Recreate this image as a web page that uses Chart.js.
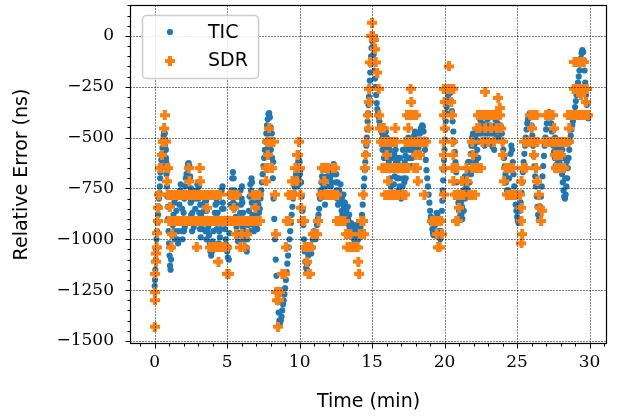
<!DOCTYPE html>
<html>
<head>
<meta charset="utf-8">
<script src="https://cdn.jsdelivr.net/npm/chart.js@4.4.0/dist/chart.umd.min.js"></script>
<style>
  html, body { margin: 0; padding: 0; background: #fff; }
  #wrap { width: 618px; height: 416px; }
</style>
</head>
<body>
<div id="wrap"><canvas id="chart" width="618" height="416"></canvas></div>
<script>
const ticTime = [
  0.00,0.02,0.05,0.08,0.10,0.13,0.16,0.20,0.24,0.28,
  0.30,0.33,0.36,0.38,0.40,0.43,0.46,0.50,0.54,0.58,
  0.62,0.66,0.70,0.74,0.78,0.80,0.82,0.85,0.88,0.90,
  0.93,0.96,1.00,1.03,1.06,1.10,1.13,1.16,1.20,1.25,
  1.30,1.35,1.40,1.45,1.50,1.55,1.60,1.65,1.70,1.75,
  1.80,1.85,1.90,1.95,2.00,2.05,2.10,2.15,2.20,2.25,
  2.30,2.35,2.40,2.45,2.50,2.55,2.60,2.65,2.70,2.75,
  2.80,2.85,2.90,2.95,3.00,3.05,3.10,3.15,3.20,3.25,
  3.30,3.35,3.40,3.45,3.50,3.55,3.60,3.65,3.70,3.75,
  3.80,3.85,3.90,3.95,4.00,4.05,4.10,4.15,4.20,4.25,
  4.30,4.35,4.40,4.45,4.50,4.55,4.60,4.65,4.70,4.75,
  4.80,4.85,4.90,4.95,5.00,5.05,5.10,5.15,5.20,5.25,
  5.30,5.35,5.40,5.45,5.50,5.55,5.60,5.65,5.70,5.75,
  5.80,5.85,5.90,5.95,6.00,6.05,6.10,6.15,6.20,6.25,
  6.30,6.35,6.40,6.45,6.50,6.55,6.60,6.65,6.70,6.75,
  6.80,6.85,6.90,6.95,7.00,7.05,7.10,7.15,7.20,7.25,
  7.30,7.35,7.40,7.45,7.50,7.55,7.60,7.65,7.70,7.75,
  7.80,7.85,7.90,7.95,8.00,8.05,8.10,8.15,8.20,8.25,
  8.30,8.35,8.40,8.45,8.50,8.55,8.60,8.65,8.70,8.75,
  8.80,8.85,8.90,8.95,9.00,9.05,9.10,9.15,9.20,9.25,
  9.30,9.35,9.40,9.45,9.50,9.55,9.60,9.65,9.70,9.75,
  9.80,9.85,9.90,9.95,10.00,10.05,10.10,10.15,10.20,10.25,
  10.30,10.35,10.40,10.45,10.50,10.55,10.60,10.65,10.70,10.75,
  10.80,10.85,10.90,10.95,11.00,11.05,11.10,11.15,11.20,11.25,
  11.30,11.35,11.40,11.45,11.50,11.55,11.60,11.65,11.70,11.75,
  11.80,11.85,11.90,11.95,12.00,12.05,12.10,12.15,12.20,12.25,
  12.30,12.35,12.40,12.45,12.50,12.55,12.60,12.65,12.70,12.75,
  12.80,12.85,12.90,12.95,13.00,13.05,13.10,13.15,13.20,13.25,
  13.30,13.35,13.40,13.45,13.50,13.55,13.60,13.65,13.70,13.75,
  13.80,13.85,13.90,13.95,14.00,14.05,14.10,14.15,14.20,14.25,
  14.30,14.35,14.40,14.43,14.46,14.50,14.53,14.56,14.60,14.63,
  14.66,14.69,14.72,14.75,14.78,14.81,14.84,14.87,14.90,14.93,
  14.96,14.99,15.02,15.05,15.08,15.11,15.14,15.17,15.20,15.24,
  15.28,15.32,15.36,15.40,15.45,15.50,15.55,15.60,15.65,15.70,
  15.75,15.80,15.85,15.90,15.95,16.00,16.05,16.10,16.15,16.20,
  16.25,16.30,16.35,16.40,16.45,16.50,16.55,16.60,16.65,16.70,
  16.75,16.80,16.85,16.90,16.95,17.00,17.05,17.10,17.15,17.20,
  17.25,17.30,17.35,17.40,17.45,17.50,17.55,17.60,17.65,17.70,
  17.75,17.80,17.85,17.90,17.95,18.00,18.05,18.10,18.15,18.20,
  18.25,18.30,18.35,18.40,18.45,18.50,18.55,18.60,18.65,18.70,
  18.75,18.80,18.85,18.90,18.95,19.00,19.05,19.10,19.15,19.20,
  19.25,19.30,19.35,19.40,19.45,19.50,19.55,19.60,19.65,19.70,
  19.75,19.78,19.81,19.84,19.87,19.90,19.93,19.96,19.99,20.02,
  20.05,20.08,20.11,20.14,20.20,20.25,20.30,20.35,20.40,20.45,
  20.50,20.55,20.60,20.65,20.70,20.75,20.80,20.85,20.90,20.95,
  21.00,21.05,21.10,21.15,21.20,21.25,21.30,21.35,21.40,21.45,
  21.50,21.55,21.60,21.65,21.70,21.75,21.80,21.85,21.90,21.95,
  22.00,22.05,22.10,22.15,22.20,22.25,22.30,22.35,22.40,22.45,
  22.50,22.55,22.60,22.65,22.70,22.75,22.80,22.85,22.90,22.95,
  23.00,23.05,23.10,23.15,23.20,23.25,23.30,23.35,23.40,23.45,
  23.50,23.55,23.60,23.65,23.70,23.75,23.80,23.85,23.90,23.95,
  24.00,24.05,24.10,24.15,24.20,24.25,24.30,24.35,24.40,24.45,
  24.50,24.55,24.60,24.65,24.70,24.75,24.80,24.85,24.90,24.95,
  25.00,25.05,25.10,25.15,25.20,25.25,25.30,25.35,25.40,25.45,
  25.50,25.55,25.60,25.65,25.70,25.75,25.80,25.85,25.90,25.95,
  26.00,26.05,26.10,26.15,26.20,26.25,26.30,26.35,26.40,26.45,
  26.50,26.55,26.60,26.65,26.70,26.75,26.80,26.85,26.90,26.95,
  27.00,27.05,27.10,27.15,27.20,27.25,27.30,27.35,27.40,27.45,
  27.50,27.55,27.60,27.65,27.70,27.75,27.80,27.85,27.90,27.95,
  28.00,28.05,28.10,28.15,28.20,28.25,28.30,28.35,28.40,28.45,
  28.50,28.55,28.60,28.65,28.70,28.75,28.80,28.85,28.90,28.95,
  29.00,29.05,29.10,29.15,29.20,29.25,29.30,29.35,29.40,29.45,
  29.50,29.55,29.60,29.65,29.70,29.75,29.80,29.85,29.90,
  // second pass through the thick parts of the trace
  1.32,1.38,1.58,1.62,1.88,1.92,2.02,2.08,2.42,2.48,
  2.52,2.58,3.02,3.08,3.12,3.18,3.48,3.52,3.58,3.62,
  4.22,4.28,4.42,4.62,4.68,5.12,5.38,5.42,5.48,5.92,
  6.02,6.08,6.12,6.58,6.62,6.68,6.72,7.02,7.08,7.12,
  7.62,7.72,7.82,7.88,7.92,7.98,8.02,8.08,8.12,8.18,
  15.62,15.72,15.82,15.92,16.02,16.12,16.22,16.32,16.42,16.52,
  16.62,16.72,16.82,16.92,17.02,17.12,17.22,17.32,17.42,17.52,
  21.12,21.22,21.32,21.42,21.62,21.72,21.82,22.12,22.22,22.32,
  22.52,22.62,22.72,22.92,23.02,23.12,23.32,23.42,23.62,23.72,
  27.52,27.62,27.72,27.82,27.92,28.02,28.12,28.22,28.32,28.42,
  12.52,12.62,12.72,12.82,12.92,13.02,13.12,13.22,13.32,13.42,
  0.52,0.58,0.64,0.72,0.78,9.72,9.82,9.92,10.02,10.08
];
const ticError = [
  -1230,-1200,-1150,-1100,-1050,-1000,-960,-920,-880,-840,
  -800,-770,-740,-700,-670,-640,-610,-580,-550,-520,
  -490,-475,-480,-510,-560,-620,-680,-740,-790,-840,
  -900,-960,-1020,-1080,-1130,-1150,-1100,-1040,-980,-930,
  -880,-820,-780,-800,-860,-920,-960,-900,-830,-760,
  -730,-780,-850,-910,-870,-800,-740,-700,-680,-650,
  -630,-625,-640,-690,-750,-810,-870,-920,-940,-900,
  -850,-800,-760,-730,-720,-740,-780,-830,-880,-920,
  -950,-910,-860,-820,-790,-810,-860,-900,-940,-980,
  -1020,-1060,-1080,-1060,-1010,-960,-910,-870,-830,-800,
  -820,-870,-920,-960,-990,-950,-900,-850,-820,-850,
  -900,-950,-1000,-1030,-1060,-1090,-1040,-970,-900,-830,
  -760,-700,-670,-700,-760,-830,-890,-940,-980,-1010,
  -970,-920,-870,-830,-800,-820,-870,-920,-960,-1000,
  -1040,-1060,-1000,-930,-860,-790,-730,-760,-820,-880,
  -930,-960,-920,-880,-850,-820,-800,-830,-870,-850,
  -800,-760,-720,-680,-640,-600,-560,-520,-480,-440,
  -410,-385,-380,-400,-450,-520,-600,-700,-800,-900,
  -1000,-1100,-1180,-1250,-1310,-1360,-1400,-1410,-1400,-1380,
  -1350,-1320,-1300,-1270,-1240,-1200,-1160,-1120,-1080,-1040,
  -1000,-960,-920,-880,-840,-800,-770,-740,-710,-680,
  -655,-635,-620,-610,-620,-660,-720,-790,-860,-930,
  -1000,-1060,-1110,-1140,-1150,-1120,-1080,-1050,-1030,-1050,
  -1070,-1040,-1000,-970,-960,-980,-1000,-970,-930,-900,
  -880,-850,-800,-760,-720,-690,-700,-740,-790,-830,
  -790,-740,-690,-660,-645,-660,-700,-740,-720,-680,
  -650,-630,-640,-680,-720,-760,-800,-830,-800,-770,
  -780,-820,-860,-880,-860,-840,-870,-900,-920,-900,
  -880,-900,-930,-950,-940,-920,-940,-960,-980,-1000,
  -980,-950,-930,-950,-980,-1000,-990,-960,-940,-920,
  -880,-830,-780,-740,-700,-660,-620,-580,-540,-500,
  -460,-420,-380,-340,-300,-260,-220,-180,-140,-100,
  -60,-25,0,-15,-50,-90,-130,-170,-210,-250,
  -290,-330,-360,-380,-400,-420,-440,-460,-470,-480,
  -500,-510,-480,-460,-470,-500,-540,-580,-620,-660,
  -700,-740,-770,-790,-770,-730,-690,-650,-620,-600,
  -620,-660,-700,-740,-780,-800,-780,-740,-700,-660,
  -620,-590,-560,-540,-520,-500,-520,-560,-600,-640,
  -600,-560,-520,-490,-470,-480,-510,-550,-580,-550,
  -510,-480,-460,-450,-440,-445,-470,-510,-560,-610,
  -660,-700,-740,-780,-820,-860,-890,-920,-950,-970,
  -980,-960,-930,-900,-870,-880,-920,-960,-990,-1000,
  -960,-910,-860,-810,-760,-710,-660,-610,-560,-510,
  -460,-420,-380,-350,-320,-290,-270,-265,-280,-320,
  -370,-420,-470,-520,-570,-620,-670,-720,-770,-820,
  -860,-890,-905,-880,-840,-800,-760,-720,-690,-700,
  -740,-780,-760,-720,-670,-620,-580,-540,-500,-480,
  -500,-540,-580,-620,-600,-560,-520,-480,-440,-410,
  -390,-400,-430,-470,-510,-540,-520,-480,-440,-410,
  -390,-380,-400,-440,-480,-520,-545,-520,-480,-440,
  -410,-390,-400,-430,-470,-500,-470,-440,-450,-480,
  -520,-560,-600,-640,-680,-720,-760,-790,-760,-700,
  -640,-580,-540,-560,-620,-680,-740,-790,-830,-860,
  -890,-910,-920,-900,-860,-820,-770,-720,-670,-620,
  -580,-540,-500,-460,-430,-410,-395,-385,-380,-400,
  -440,-490,-540,-590,-640,-690,-740,-790,-840,-880,
  -905,-880,-840,-790,-740,-690,-640,-590,-540,-500,
  -460,-430,-400,-385,-375,-380,-400,-430,-470,-510,
  -540,-570,-600,-640,-660,-630,-590,-560,-540,-560,
  -600,-640,-680,-720,-760,-790,-800,-780,-740,-700,
  -650,-600,-560,-520,-490,-460,-440,-420,-400,-380,
  -350,-320,-290,-260,-230,-200,-170,-140,-110,-85,
  -70,-80,-120,-170,-230,-290,-340,-380,-405,
  // second pass
  -960,-1000,-1000,-1020,-960,-1000,-960,-940,-700,-820,
  -880,-960,-800,-870,-950,-990,-900,-960,-1000,-960,
  -900,-950,-1020,-760,-740,-1100,-780,-820,-850,-760,
  -740,-940,-1000,-900,-960,-700,-720,-930,-950,-900,
  -640,-560,-480,-460,-470,-520,-560,-480,-520,-620,
  -520,-560,-600,-560,-600,-520,-560,-600,-640,-580,
  -560,-700,-760,-600,-640,-560,-720,-700,-640,-600,
  -820,-900,-860,-800,-620,-720,-680,-500,-460,-600,
  -480,-520,-440,-520,-480,-520,-450,-560,-500,-400,
  -460,-500,-560,-520,-620,-540,-560,-600,-700,-620,
  -680,-720,-760,-730,-800,-780,-820,-860,-840,-880,
  -640,-600,-560,-540,-600,-700,-740,-700,-680,-720
];

const sdrTime = [
  0.00,0.02,0.03,0.05,0.08,0.10,0.13,0.15,0.20,0.25,
  0.30,0.35,0.40,0.45,0.50,0.55,0.60,0.65,0.70,0.75,
  0.80,0.85,0.90,0.95,1.00,1.05,1.10,1.15,1.20,2.35,
  1.25,1.50,1.75,2.00,2.25,2.50,2.75,3.00,3.25,3.50,
  3.75,4.00,4.25,4.50,5.20,5.45,5.70,6.80,7.00,7.20,
  1.25,1.50,1.75,2.00,2.25,2.50,2.75,3.00,3.25,3.50,
  3.75,4.00,4.25,4.50,4.75,5.00,5.25,5.50,5.75,6.00,
  6.25,6.50,6.75,7.00,7.25,2.40,3.10,3.15,3.60,5.45,
  2.90,3.80,4.05,4.30,4.55,4.80,5.00,5.90,6.20,4.40,
  5.00,5.10,5.60,6.00,6.40,6.95,7.65,7.80,7.90,7.75,
  7.90,8.05,8.20,7.80,7.70,8.10,8.30,8.35,8.40,8.45,
  8.50,8.55,8.65,8.80,8.90,9.00,9.05,9.10,9.20,9.30,
  9.25,9.40,9.50,9.60,9.70,9.80,9.85,9.90,9.95,10.00,
  10.05,10.10,10.15,10.30,10.35,10.45,10.55,10.65,10.50,10.60,
  10.70,10.80,10.90,11.00,11.20,11.30,11.45,11.55,11.65,11.75,
  11.70,11.85,11.95,12.00,12.15,12.30,12.45,12.30,12.45,12.60,
  12.55,12.70,12.85,13.00,13.10,13.20,13.35,13.50,13.30,13.45,
  13.60,13.75,13.90,14.00,14.05,14.10,14.15,14.25,14.40,14.40,
  14.45,14.50,14.55,14.60,14.70,14.75,14.80,14.80,14.85,14.95,
  15.00,15.05,15.10,15.20,15.25,15.35,15.45,15.50,15.55,15.60,
  15.75,15.90,16.05,16.20,16.35,16.50,16.65,15.70,15.85,16.00,
  16.15,16.30,16.45,16.60,16.75,16.90,17.05,17.20,17.35,17.50,
  16.00,15.90,16.05,16.20,16.35,16.50,16.65,16.80,17.10,17.30,
  16.10,15.80,16.60,17.40,17.50,17.65,17.70,17.75,17.90,18.05,
  17.60,17.30,17.50,17.70,17.85,18.00,18.20,18.40,18.60,18.75,
  18.00,17.90,18.10,18.15,18.60,18.30,19.10,19.25,19.40,19.60,
  19.75,19.45,19.55,19.65,19.80,19.95,19.95,19.95,19.95,19.95,
  19.95,20.00,20.00,20.30,20.20,20.35,20.50,20.60,20.45,20.50,
  20.55,20.60,20.55,20.70,20.85,20.60,20.70,20.85,21.00,21.15,
  21.30,20.80,20.90,21.00,21.20,21.50,21.55,21.70,21.85,21.90,
  21.95,21.90,22.10,22.30,22.50,22.10,22.25,22.30,22.45,22.60,
  22.75,22.90,23.05,23.20,23.35,23.50,23.65,23.80,22.80,23.70,
  23.80,22.40,22.60,22.80,23.00,23.20,23.40,23.60,23.90,24.00,
  24.00,24.20,24.40,24.60,24.70,24.10,24.30,24.50,24.70,24.90,
  25.20,25.30,25.30,25.30,25.35,25.40,25.30,25.60,25.50,25.65,
  25.80,25.95,26.10,26.25,26.40,25.90,26.05,26.20,26.35,26.00,
  26.15,26.30,26.40,26.50,26.55,26.65,26.70,26.90,27.05,27.20,
  27.35,27.50,27.65,27.80,27.95,28.10,28.25,28.40,28.55,27.00,
  27.15,27.30,27.45,27.55,27.60,27.75,27.90,28.05,27.65,27.80,
  27.95,28.10,28.25,28.50,28.65,28.80,28.95,29.10,29.25,29.40,
  29.55,29.70,29.85,28.60,28.90,29.05,29.20,29.35,29.50,29.65,
  29.80,29.40,28.95,29.10,29.25,29.45,29.60,29.75,29.90
];
const sdrError = [
  -1430,-1300,-1260,-1170,-1110,-1070,-1040,-970,-910,-845,
  -780,-650,-650,-650,-585,-520,-520,-455,-390,-520,
  -650,-715,-780,-650,-910,-840,-780,-1040,-975,-650,
  -780,-780,-780,-780,-780,-780,-780,-780,-780,-780,
  -780,-780,-780,-780,-780,-780,-780,-780,-780,-780,
  -910,-910,-910,-910,-910,-910,-910,-910,-910,-910,
  -910,-910,-910,-910,-910,-910,-910,-910,-910,-910,
  -910,-910,-910,-910,-910,-715,-650,-715,-845,-845,
  -1040,-1040,-1040,-1040,-1040,-1040,-1040,-1040,-1040,-1110,
  -1170,-1170,-975,-975,-975,-845,-650,-650,-455,-520,
  -520,-520,-520,-585,-715,-650,-780,-975,-1260,-1300,
  -1430,-1300,-1260,-1170,-1170,-1170,-1040,-910,-910,-910,
  -780,-780,-715,-780,-650,-715,-585,-585,-520,-650,
  -780,-845,-910,-910,-1040,-1040,-1040,-1040,-1110,-1170,
  -1170,-1040,-975,-975,-975,-910,-780,-650,-650,-780,
  -715,-650,-650,-780,-780,-650,-650,-780,-780,-780,
  -910,-910,-910,-910,-910,-975,-975,-975,-1040,-1040,
  -1040,-1040,-1040,-1040,-1110,-1170,-975,-910,-780,-910,
  -975,-650,-585,-520,-390,-455,-325,-260,-130,0,
  65,0,-20,-65,-130,-180,-260,-390,-455,-520,
  -520,-520,-520,-520,-520,-520,-520,-650,-650,-650,
  -650,-650,-650,-650,-650,-650,-650,-650,-650,-650,
  -585,-780,-780,-780,-780,-780,-780,-780,-780,-780,
  -715,-455,-455,-390,-455,-260,-325,-390,-390,-390,
  -390,-520,-520,-520,-520,-520,-520,-520,-520,-520,
  -585,-650,-650,-715,-780,-585,-910,-910,-910,-910,
  -910,-975,-1040,-1040,-975,-260,-390,-520,-585,-650,
  -780,-325,-455,-150,-260,-260,-260,-260,-325,-390,
  -520,-585,-650,-650,-650,-715,-780,-780,-780,-780,
  -780,-910,-910,-845,-715,-650,-715,-780,-780,-520,
  -585,-650,-650,-650,-650,-780,-455,-390,-390,-390,
  -390,-390,-390,-390,-390,-390,-390,-390,-275,-305,
  -355,-455,-520,-455,-520,-455,-520,-455,-455,-520,
  -585,-650,-650,-650,-650,-715,-780,-780,-780,-780,
  -780,-845,-910,-1020,-975,-650,-715,-650,-520,-520,
  -520,-520,-520,-520,-520,-390,-390,-390,-390,-455,
  -585,-650,-715,-780,-845,-910,-860,-520,-520,-520,
  -520,-520,-520,-520,-520,-520,-520,-520,-520,-390,
  -390,-390,-390,-455,-585,-585,-585,-585,-650,-650,
  -650,-650,-650,-390,-390,-390,-390,-390,-390,-390,
  -390,-390,-390,-455,-260,-260,-260,-260,-260,-260,
  -260,-290,-128,-128,-128,-128,-128,-325,-390
];

const seriesNames = ['TIC', 'SDR'];
const seriesColors = ['#1f77b4', '#ff7f0e'];

// filled "plus" marker like matplotlib's 'P'
function makePlus(color) {
  const c = document.createElement('canvas');
  c.width = 10; c.height = 10;
  const g = c.getContext('2d');
  g.fillStyle = color;
  g.fillRect(3, 0, 4, 10);
  g.fillRect(0, 3, 10, 4);
  return c;
}
const plusMarker = makePlus(seriesColors[1]);

function toPoints(xs, ys) {
  return xs.map((t, i) => ({ x: t, y: ys[i] }));
}

function fmtTick(v) {
  return v < 0 ? '\u2212' + Math.abs(v) : String(v);
}

// grid, frame, minor/major ticks and the legend box, drawn on top of the markers
const framePlugin = {
  id: 'frame',
  afterDatasetsDraw(chart) {
    const { ctx, chartArea: a, scales: { x, y } } = chart;
    const L = Math.round(a.left) + 0.5, R = Math.round(a.right) - 0.5;
    const T = Math.round(a.top) + 0.5, B = Math.round(a.bottom) - 0.5;
    ctx.save();
    ctx.strokeStyle = '#000';
    ctx.lineWidth = 1;
    ctx.setLineDash([1, 2]);
    ctx.beginPath();
    x.ticks.forEach(t => {
      const px = Math.round(x.getPixelForValue(t.value)) + 0.5;
      ctx.moveTo(px, T); ctx.lineTo(px, B);
    });
    y.ticks.forEach(t => {
      const py = Math.round(y.getPixelForValue(t.value)) + 0.5;
      ctx.moveTo(L, py); ctx.lineTo(R, py);
    });
    ctx.stroke();
    ctx.setLineDash([]);

    ctx.beginPath();
    for (let v = -1; v <= 31; v++) {
      const px = Math.round(x.getPixelForValue(v)) + 0.5;
      const len = v % 5 === 0 ? 5 : 3;
      ctx.moveTo(px, B); ctx.lineTo(px, B + len);
    }
    for (let v = -1500; v <= 150; v += 50) {
      const py = Math.round(y.getPixelForValue(v)) + 0.5;
      const len = v % 250 === 0 ? 5 : 3;
      ctx.moveTo(L, py); ctx.lineTo(L - len, py);
    }
    ctx.stroke();
    ctx.lineWidth = 1.2;
    ctx.strokeRect(L, T, R - L, B - T);

    // legend
    ctx.beginPath();
    ctx.roundRect(142.5, 15.5, 116, 63, 4);
    ctx.fillStyle = 'rgba(255,255,255,0.85)';
    ctx.fill();
    ctx.strokeStyle = '#cccccc';
    ctx.lineWidth = 1.5;
    ctx.stroke();
    ctx.fillStyle = seriesColors[0];
    ctx.beginPath();
    ctx.arc(170, 32, 3.1, 0, Math.PI * 2);
    ctx.fill();
    ctx.drawImage(plusMarker, 165, 56);
    ctx.fillStyle = '#000';
    ctx.font = '19px "DejaVu Sans"';
    ctx.textBaseline = 'middle';
    ctx.fillText(chart.data.datasets[0].label, 208, 33);
    ctx.fillText(chart.data.datasets[1].label, 208, 61);
    ctx.restore();
  }
};

new Chart(document.getElementById('chart'), {
  type: 'scatter',
  data: {
    datasets: [
      {
        label: seriesNames[0],
        data: toPoints(ticTime, ticError),
        backgroundColor: seriesColors[0],
        borderWidth: 0,
        pointRadius: 3.1,
        order: 1
      },
      {
        label: seriesNames[1],
        data: toPoints(sdrTime, sdrError),
        pointStyle: plusMarker,
        pointRadius: 5,
        order: 0
      }
    ]
  },
  options: {
    responsive: false,
    animation: false,
    devicePixelRatio: 1,
    events: [],
    layout: { autoPadding: false, padding: { top: 5, right: 11, left: 0, bottom: 0 } },
    plugins: { legend: { display: false }, tooltip: { enabled: false } },
    scales: {
      x: {
        type: 'linear',
        min: -1.7, max: 31.2,
        afterFit: s => { s.height = 72; s.paddingLeft = 0; s.paddingRight = 0; },
        grid: { display: false, drawTicks: false },
        border: { display: false },
        ticks: {
          stepSize: 5, includeBounds: false, padding: 8, maxRotation: 0,
          color: '#000', font: { family: 'DejaVu Serif', size: 17 },
          callback: v => fmtTick(v)
        },
        title: {
          display: true, text: 'Time (min)', color: '#000',
          font: { family: 'DejaVu Sans', size: 19 }, padding: { top: 0, bottom: 3 }
        }
      },
      y: {
        type: 'linear',
        min: -1515, max: 152,
        afterFit: s => { s.width = 130; s.paddingTop = 0; s.paddingBottom = 0; },
        grid: { display: false, drawTicks: false },
        border: { display: false },
        ticks: {
          stepSize: 250, includeBounds: false, padding: 16,
          color: '#000', font: { family: 'DejaVu Serif', size: 17 },
          callback: v => fmtTick(v)
        },
        title: {
          display: true, text: 'Relative Error (ns)', color: '#000',
          font: { family: 'DejaVu Sans', size: 19 }, padding: { top: 11, bottom: 0 }
        }
      }
    }
  },
  plugins: [framePlugin]
});
</script>
</body>
</html>
